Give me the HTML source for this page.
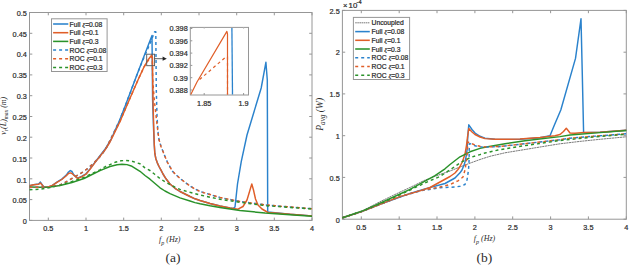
<!DOCTYPE html>
<html><head><meta charset="utf-8">
<style>
html,body{margin:0;padding:0;background:#fff;}
body{width:629px;height:266px;overflow:hidden;}
svg{display:block;}
text{font-family:"Liberation Sans",sans-serif;fill:#2b2b2b;stroke:#2b2b2b;stroke-width:0.22px;}
.s{font-family:"Liberation Serif",serif;stroke-width:0;}
</style></head><body>
<svg width="629" height="266" viewBox="0 0 629 266">
<rect x="0" y="0" width="629" height="266" fill="#fff"/>
<rect x="29.5" y="12.5" width="282.5" height="207.9" fill="none" stroke="#969696" stroke-width="1"/>
<line x1="48.3" y1="220.4" x2="48.3" y2="217.6" stroke="#969696" stroke-width="1"/>
<line x1="48.3" y1="12.5" x2="48.3" y2="15.3" stroke="#969696" stroke-width="1"/>
<line x1="86.0" y1="220.4" x2="86.0" y2="217.6" stroke="#969696" stroke-width="1"/>
<line x1="86.0" y1="12.5" x2="86.0" y2="15.3" stroke="#969696" stroke-width="1"/>
<line x1="123.7" y1="220.4" x2="123.7" y2="217.6" stroke="#969696" stroke-width="1"/>
<line x1="123.7" y1="12.5" x2="123.7" y2="15.3" stroke="#969696" stroke-width="1"/>
<line x1="161.3" y1="220.4" x2="161.3" y2="217.6" stroke="#969696" stroke-width="1"/>
<line x1="161.3" y1="12.5" x2="161.3" y2="15.3" stroke="#969696" stroke-width="1"/>
<line x1="199.0" y1="220.4" x2="199.0" y2="217.6" stroke="#969696" stroke-width="1"/>
<line x1="199.0" y1="12.5" x2="199.0" y2="15.3" stroke="#969696" stroke-width="1"/>
<line x1="236.7" y1="220.4" x2="236.7" y2="217.6" stroke="#969696" stroke-width="1"/>
<line x1="236.7" y1="12.5" x2="236.7" y2="15.3" stroke="#969696" stroke-width="1"/>
<line x1="274.3" y1="220.4" x2="274.3" y2="217.6" stroke="#969696" stroke-width="1"/>
<line x1="274.3" y1="12.5" x2="274.3" y2="15.3" stroke="#969696" stroke-width="1"/>
<line x1="312.0" y1="220.4" x2="312.0" y2="217.6" stroke="#969696" stroke-width="1"/>
<line x1="312.0" y1="12.5" x2="312.0" y2="15.3" stroke="#969696" stroke-width="1"/>
<line x1="29.5" y1="220.4" x2="32.3" y2="220.4" stroke="#969696" stroke-width="1"/>
<line x1="312.0" y1="220.4" x2="309.2" y2="220.4" stroke="#969696" stroke-width="1"/>
<line x1="29.5" y1="199.6" x2="32.3" y2="199.6" stroke="#969696" stroke-width="1"/>
<line x1="312.0" y1="199.6" x2="309.2" y2="199.6" stroke="#969696" stroke-width="1"/>
<line x1="29.5" y1="178.8" x2="32.3" y2="178.8" stroke="#969696" stroke-width="1"/>
<line x1="312.0" y1="178.8" x2="309.2" y2="178.8" stroke="#969696" stroke-width="1"/>
<line x1="29.5" y1="158.0" x2="32.3" y2="158.0" stroke="#969696" stroke-width="1"/>
<line x1="312.0" y1="158.0" x2="309.2" y2="158.0" stroke="#969696" stroke-width="1"/>
<line x1="29.5" y1="137.2" x2="32.3" y2="137.2" stroke="#969696" stroke-width="1"/>
<line x1="312.0" y1="137.2" x2="309.2" y2="137.2" stroke="#969696" stroke-width="1"/>
<line x1="29.5" y1="116.5" x2="32.3" y2="116.5" stroke="#969696" stroke-width="1"/>
<line x1="312.0" y1="116.5" x2="309.2" y2="116.5" stroke="#969696" stroke-width="1"/>
<line x1="29.5" y1="95.7" x2="32.3" y2="95.7" stroke="#969696" stroke-width="1"/>
<line x1="312.0" y1="95.7" x2="309.2" y2="95.7" stroke="#969696" stroke-width="1"/>
<line x1="29.5" y1="74.9" x2="32.3" y2="74.9" stroke="#969696" stroke-width="1"/>
<line x1="312.0" y1="74.9" x2="309.2" y2="74.9" stroke="#969696" stroke-width="1"/>
<line x1="29.5" y1="54.1" x2="32.3" y2="54.1" stroke="#969696" stroke-width="1"/>
<line x1="312.0" y1="54.1" x2="309.2" y2="54.1" stroke="#969696" stroke-width="1"/>
<line x1="29.5" y1="33.3" x2="32.3" y2="33.3" stroke="#969696" stroke-width="1"/>
<line x1="312.0" y1="33.3" x2="309.2" y2="33.3" stroke="#969696" stroke-width="1"/>
<line x1="29.5" y1="12.5" x2="32.3" y2="12.5" stroke="#969696" stroke-width="1"/>
<line x1="312.0" y1="12.5" x2="309.2" y2="12.5" stroke="#969696" stroke-width="1"/>
<text x="48.3" y="231.4" font-size="7.9" text-anchor="middle" textLength="10.15" lengthAdjust="spacingAndGlyphs">0.5</text>
<text x="86.0" y="231.4" font-size="7.9" text-anchor="middle" textLength="4.06" lengthAdjust="spacingAndGlyphs">1</text>
<text x="123.7" y="231.4" font-size="7.9" text-anchor="middle" textLength="10.15" lengthAdjust="spacingAndGlyphs">1.5</text>
<text x="161.3" y="231.4" font-size="7.9" text-anchor="middle" textLength="4.06" lengthAdjust="spacingAndGlyphs">2</text>
<text x="199.0" y="231.4" font-size="7.9" text-anchor="middle" textLength="10.15" lengthAdjust="spacingAndGlyphs">2.5</text>
<text x="236.7" y="231.4" font-size="7.9" text-anchor="middle" textLength="4.06" lengthAdjust="spacingAndGlyphs">3</text>
<text x="274.3" y="231.4" font-size="7.9" text-anchor="middle" textLength="10.15" lengthAdjust="spacingAndGlyphs">3.5</text>
<text x="312.0" y="231.4" font-size="7.9" text-anchor="middle" textLength="4.06" lengthAdjust="spacingAndGlyphs">4</text>
<text x="26.8" y="224.2" font-size="7.9" text-anchor="end" textLength="4.06" lengthAdjust="spacingAndGlyphs">0</text>
<text x="26.8" y="203.3" font-size="7.9" text-anchor="end" textLength="14.21" lengthAdjust="spacingAndGlyphs">0.05</text>
<text x="26.8" y="182.5" font-size="7.9" text-anchor="end" textLength="10.15" lengthAdjust="spacingAndGlyphs">0.1</text>
<text x="26.8" y="161.6" font-size="7.9" text-anchor="end" textLength="14.21" lengthAdjust="spacingAndGlyphs">0.15</text>
<text x="26.8" y="140.8" font-size="7.9" text-anchor="end" textLength="10.15" lengthAdjust="spacingAndGlyphs">0.2</text>
<text x="26.8" y="119.9" font-size="7.9" text-anchor="end" textLength="14.21" lengthAdjust="spacingAndGlyphs">0.25</text>
<text x="26.8" y="99.0" font-size="7.9" text-anchor="end" textLength="10.15" lengthAdjust="spacingAndGlyphs">0.3</text>
<text x="26.8" y="78.2" font-size="7.9" text-anchor="end" textLength="14.21" lengthAdjust="spacingAndGlyphs">0.35</text>
<text x="26.8" y="57.3" font-size="7.9" text-anchor="end" textLength="10.15" lengthAdjust="spacingAndGlyphs">0.4</text>
<text x="26.8" y="36.5" font-size="7.9" text-anchor="end" textLength="14.21" lengthAdjust="spacingAndGlyphs">0.45</text>
<text x="26.8" y="15.6" font-size="7.9" text-anchor="end" textLength="10.15" lengthAdjust="spacingAndGlyphs">0.5</text>
<polyline points="29.5,185.8 33.6,184.7 38.7,183.9 40.4,182.1 43.8,187.0 47.7,187.3 51.7,185.8 57.3,181.9 61.8,179.1 66.3,175.1 68.5,172.0 70.3,170.6 72.0,171.5 73.6,174.6 77.6,178.2 82.0,176.2 86.0,173.8 90.0,168.9 95.0,162.1 100.0,155.8 105.0,149.3 111.0,139.5 119.3,121.0 125.0,106.5 134.8,80.5 144.1,56.0 152.0,35.5 152.6,100.0 153.6,130.0 154.3,145.0 154.8,153.2 155.8,158.5 157.2,162.6 159.0,166.5 161.0,170.1 163.0,174.0 166.0,178.8 170.0,184.0 175.0,188.3 180.0,191.5 190.0,196.5 195.0,198.8 200.0,200.5 210.0,203.5 220.0,206.0 230.0,208.0 233.0,208.5 235.0,207.0 237.5,184.0 241.3,161.4 247.0,135.0 261.2,88.0 265.9,62.3 267.3,80.0 267.7,212.0 275.0,212.8 290.0,214.3 312.0,215.9" fill="none" stroke="#2A82CC" stroke-width="1.45" stroke-linejoin="round"/>
<polyline points="29.5,185.8 33.6,184.7 38.7,184.2 40.4,183.0 43.8,187.0 47.7,187.3 51.7,185.8 57.3,182.2 61.8,179.5 66.3,175.8 68.5,173.5 70.3,172.9 72.0,173.5 73.6,175.0 77.6,178.5 82.0,176.6 86.0,174.2 90.0,169.4 95.0,162.6 100.0,156.3 105.0,150.0 110.0,142.0 113.0,136.0 120.0,121.5 129.0,100.5 138.2,79.5 144.0,67.0 148.0,60.0 151.6,55.2 152.4,57.0 153.0,100.0 153.8,130.0 154.3,145.0 154.8,153.2 155.8,158.5 157.2,162.6 159.0,166.5 161.0,170.1 163.0,174.0 166.0,178.8 170.0,184.0 175.0,188.3 180.0,191.5 190.0,196.5 195.0,198.8 200.0,200.5 210.0,203.5 220.0,206.0 230.0,208.0 238.0,209.2 243.0,206.5 247.0,200.0 250.0,190.0 251.8,184.0 253.5,190.0 255.5,199.0 258.0,205.0 262.0,209.0 268.0,212.5 275.0,213.0 290.0,214.3 312.0,215.9" fill="none" stroke="#E05E28" stroke-width="1.45" stroke-linejoin="round"/>
<polyline points="29.5,187.0 40.0,187.2 50.0,187.0 60.0,185.5 72.0,182.5 84.0,178.5 92.0,174.5 100.0,170.6 110.0,166.5 117.0,164.8 122.0,164.3 127.0,164.6 132.0,166.3 140.0,171.3 145.0,175.5 150.0,179.2 155.0,183.5 160.0,187.8 165.0,191.0 170.0,193.6 180.0,197.9 190.0,201.0 195.0,202.6 200.0,203.8 210.0,205.8 220.0,207.5 240.0,210.5 265.0,213.0 290.0,214.8 312.0,216.3" fill="none" stroke="#2A922A" stroke-width="1.45" stroke-linejoin="round"/>
<polyline points="29.5,187.5 42.6,187.0 50.5,186.8 59.5,185.3 68.6,180.5 74.0,177.3 78.7,174.6 81.5,172.9 87.5,168.6 95.0,161.8 101.0,155.5 106.3,148.0 112.3,135.5 119.3,121.0 125.0,106.5 134.8,80.5 140.0,67.0 145.0,55.0 150.1,43.5 154.6,31.8 155.8,31.8 156.3,90.0 157.0,115.0 157.8,130.0 159.1,140.0 161.0,146.5 162.9,151.3 165.0,156.5 167.6,162.6 170.0,166.8 172.3,171.0 175.0,173.8 180.0,178.5 190.0,186.0 195.0,189.0 200.0,191.5 210.0,194.5 220.0,197.5 240.0,201.5 265.0,204.8 280.0,206.2 312.0,208.7" fill="none" stroke="#2A82CC" stroke-width="1.45" stroke-linejoin="round" stroke-dasharray="3,3"/>
<polyline points="29.5,187.5 42.6,187.0 50.5,186.8 59.5,185.3 68.6,180.5 74.0,177.3 78.7,174.6 81.5,172.9 87.5,168.6 95.0,161.8 101.0,155.5 106.3,148.0 112.6,135.5 120.0,121.5 129.0,100.5 138.2,79.5 144.0,67.0 149.6,58.4 151.8,56.8 152.3,57.0 152.7,80.0 154.3,100.0 156.5,120.0 158.3,135.0 159.1,140.0 161.0,146.5 162.9,151.3 165.0,156.5 167.6,162.6 170.0,166.8 172.3,171.0 175.0,173.8 180.0,178.5 190.0,186.0 195.0,189.0 200.0,191.5 210.0,194.5 220.0,197.5 240.0,201.5 265.0,204.8 280.0,206.2 312.0,208.7" fill="none" stroke="#E05E28" stroke-width="1.45" stroke-linejoin="round" stroke-dasharray="3,3"/>
<polyline points="29.5,189.8 40.0,189.2 50.0,187.5 60.0,185.3 72.0,181.5 84.0,177.4 92.0,173.5 100.0,169.8 105.0,166.8 115.0,162.3 121.0,160.8 126.0,160.4 131.0,160.9 140.0,163.8 145.0,167.9 150.0,170.5 155.0,174.5 160.0,178.5 165.0,181.8 170.0,184.6 175.0,187.2 180.0,189.4 190.0,192.3 195.0,193.6 200.0,195.0 210.0,197.2 220.0,199.3 240.0,202.3 265.0,205.6 290.0,207.5 312.0,208.9" fill="none" stroke="#2A922A" stroke-width="1.45" stroke-linejoin="round" stroke-dasharray="3,3"/>
<rect x="146.7" y="54.2" width="7.9" height="11.5" fill="none" stroke="#555" stroke-width="0.9"/>
<line x1="154.6" y1="58.7" x2="163.5" y2="58.7" stroke="#333" stroke-width="0.8"/>
<path d="M166.8,58.7 L162.6,56.6 L162.6,60.8 Z" fill="#222"/>
<rect x="190.3" y="27.4" width="58.2" height="67.6" fill="#fff" stroke="#969696" stroke-width="1"/>
<line x1="190.3" y1="90.0" x2="192.3" y2="90.0" stroke="#969696" stroke-width="1"/>
<text x="187.7" y="92.8" font-size="7.9" text-anchor="end" textLength="18.26" lengthAdjust="spacingAndGlyphs">0.388</text>
<line x1="190.3" y1="77.7" x2="192.3" y2="77.7" stroke="#969696" stroke-width="1"/>
<text x="187.7" y="80.5" font-size="7.9" text-anchor="end" textLength="14.21" lengthAdjust="spacingAndGlyphs">0.39</text>
<line x1="190.3" y1="65.4" x2="192.3" y2="65.4" stroke="#969696" stroke-width="1"/>
<text x="187.7" y="68.2" font-size="7.9" text-anchor="end" textLength="18.26" lengthAdjust="spacingAndGlyphs">0.392</text>
<line x1="190.3" y1="53.1" x2="192.3" y2="53.1" stroke="#969696" stroke-width="1"/>
<text x="187.7" y="55.9" font-size="7.9" text-anchor="end" textLength="18.26" lengthAdjust="spacingAndGlyphs">0.394</text>
<line x1="190.3" y1="40.8" x2="192.3" y2="40.8" stroke="#969696" stroke-width="1"/>
<text x="187.7" y="43.6" font-size="7.9" text-anchor="end" textLength="18.26" lengthAdjust="spacingAndGlyphs">0.396</text>
<line x1="190.3" y1="28.5" x2="192.3" y2="28.5" stroke="#969696" stroke-width="1"/>
<text x="187.7" y="31.3" font-size="7.9" text-anchor="end" textLength="18.26" lengthAdjust="spacingAndGlyphs">0.398</text>
<line x1="204.2" y1="95.0" x2="204.2" y2="93.0" stroke="#969696" stroke-width="1"/>
<line x1="204.2" y1="27.4" x2="204.2" y2="28.9" stroke="#bbb" stroke-width="0.8"/>
<text x="204.2" y="105.6" font-size="7.9" text-anchor="middle" textLength="14.21" lengthAdjust="spacingAndGlyphs">1.85</text>
<line x1="243.6" y1="95.0" x2="243.6" y2="93.0" stroke="#969696" stroke-width="1"/>
<line x1="243.6" y1="27.4" x2="243.6" y2="28.9" stroke="#bbb" stroke-width="0.8"/>
<text x="243.6" y="105.6" font-size="7.9" text-anchor="middle" textLength="10.15" lengthAdjust="spacingAndGlyphs">1.9</text>
<polyline points="190.8,94.5 197,82 226.9,31.4 227.5,34 227.5,94.5" fill="none" stroke="#E05E28" stroke-width="1.2" stroke-linejoin="round"/>
<polyline points="199.6,79.5 225.8,57 227.5,57 227.5,94.5" fill="none" stroke="#E05E28" stroke-width="1.2" stroke-dasharray="3,3"/>
<line x1="231.9" y1="27.9" x2="232.5" y2="94.5" stroke="#2A82CC" stroke-width="1.3"/>
<rect x="51.5" y="18.8" width="55.6" height="52.7" fill="#fff" stroke="#969696" stroke-width="1"/>
<line x1="53.1" y1="24.0" x2="68.3" y2="24.0" stroke="#2A82CC" stroke-width="1.55"/>
<text x="69.6" y="26.5" font-size="6.75">Full <tspan font-style="italic" font-size="6.2">&#958;</tspan>=0.08</text>
<line x1="53.1" y1="32.7" x2="68.3" y2="32.7" stroke="#E05E28" stroke-width="1.55"/>
<text x="69.6" y="35.2" font-size="6.75">Full <tspan font-style="italic" font-size="6.2">&#958;</tspan>=0.1</text>
<line x1="53.1" y1="41.4" x2="68.3" y2="41.4" stroke="#2A922A" stroke-width="1.55"/>
<text x="69.6" y="43.9" font-size="6.75">Full <tspan font-style="italic" font-size="6.2">&#958;</tspan>=0.3</text>
<line x1="53.1" y1="50.0" x2="68.3" y2="50.0" stroke="#2A82CC" stroke-width="1.55" stroke-dasharray="3,3"/>
<text x="69.6" y="52.5" font-size="6.75">ROC <tspan font-style="italic" font-size="6.2">&#958;</tspan>=0.08</text>
<line x1="53.1" y1="58.7" x2="68.3" y2="58.7" stroke="#E05E28" stroke-width="1.55" stroke-dasharray="3,3"/>
<text x="69.6" y="61.2" font-size="6.75">ROC <tspan font-style="italic" font-size="6.2">&#958;</tspan>=0.1</text>
<line x1="53.1" y1="67.4" x2="68.3" y2="67.4" stroke="#2A922A" stroke-width="1.55" stroke-dasharray="3,3"/>
<text x="69.6" y="69.9" font-size="6.75">ROC <tspan font-style="italic" font-size="6.2">&#958;</tspan>=0.3</text>
<rect x="342.4" y="10.4" width="283.9" height="208.8" fill="none" stroke="#969696" stroke-width="1"/>
<line x1="361.3" y1="219.2" x2="361.3" y2="216.39999999999998" stroke="#969696" stroke-width="1"/>
<line x1="361.3" y1="10.4" x2="361.3" y2="13.2" stroke="#969696" stroke-width="1"/>
<line x1="399.2" y1="219.2" x2="399.2" y2="216.39999999999998" stroke="#969696" stroke-width="1"/>
<line x1="399.2" y1="10.4" x2="399.2" y2="13.2" stroke="#969696" stroke-width="1"/>
<line x1="437.0" y1="219.2" x2="437.0" y2="216.39999999999998" stroke="#969696" stroke-width="1"/>
<line x1="437.0" y1="10.4" x2="437.0" y2="13.2" stroke="#969696" stroke-width="1"/>
<line x1="474.9" y1="219.2" x2="474.9" y2="216.39999999999998" stroke="#969696" stroke-width="1"/>
<line x1="474.9" y1="10.4" x2="474.9" y2="13.2" stroke="#969696" stroke-width="1"/>
<line x1="512.7" y1="219.2" x2="512.7" y2="216.39999999999998" stroke="#969696" stroke-width="1"/>
<line x1="512.7" y1="10.4" x2="512.7" y2="13.2" stroke="#969696" stroke-width="1"/>
<line x1="550.6" y1="219.2" x2="550.6" y2="216.39999999999998" stroke="#969696" stroke-width="1"/>
<line x1="550.6" y1="10.4" x2="550.6" y2="13.2" stroke="#969696" stroke-width="1"/>
<line x1="588.4" y1="219.2" x2="588.4" y2="216.39999999999998" stroke="#969696" stroke-width="1"/>
<line x1="588.4" y1="10.4" x2="588.4" y2="13.2" stroke="#969696" stroke-width="1"/>
<line x1="626.3" y1="219.2" x2="626.3" y2="216.39999999999998" stroke="#969696" stroke-width="1"/>
<line x1="626.3" y1="10.4" x2="626.3" y2="13.2" stroke="#969696" stroke-width="1"/>
<line x1="342.4" y1="219.2" x2="345.2" y2="219.2" stroke="#969696" stroke-width="1"/>
<line x1="626.3" y1="219.2" x2="623.5" y2="219.2" stroke="#969696" stroke-width="1"/>
<line x1="342.4" y1="177.4" x2="345.2" y2="177.4" stroke="#969696" stroke-width="1"/>
<line x1="626.3" y1="177.4" x2="623.5" y2="177.4" stroke="#969696" stroke-width="1"/>
<line x1="342.4" y1="135.7" x2="345.2" y2="135.7" stroke="#969696" stroke-width="1"/>
<line x1="626.3" y1="135.7" x2="623.5" y2="135.7" stroke="#969696" stroke-width="1"/>
<line x1="342.4" y1="93.9" x2="345.2" y2="93.9" stroke="#969696" stroke-width="1"/>
<line x1="626.3" y1="93.9" x2="623.5" y2="93.9" stroke="#969696" stroke-width="1"/>
<line x1="342.4" y1="52.2" x2="345.2" y2="52.2" stroke="#969696" stroke-width="1"/>
<line x1="626.3" y1="52.2" x2="623.5" y2="52.2" stroke="#969696" stroke-width="1"/>
<line x1="342.4" y1="10.4" x2="345.2" y2="10.4" stroke="#969696" stroke-width="1"/>
<line x1="626.3" y1="10.4" x2="623.5" y2="10.4" stroke="#969696" stroke-width="1"/>
<text x="361.3" y="230.2" font-size="7.9" text-anchor="middle" textLength="10.15" lengthAdjust="spacingAndGlyphs">0.5</text>
<text x="399.2" y="230.2" font-size="7.9" text-anchor="middle" textLength="4.06" lengthAdjust="spacingAndGlyphs">1</text>
<text x="437.0" y="230.2" font-size="7.9" text-anchor="middle" textLength="10.15" lengthAdjust="spacingAndGlyphs">1.5</text>
<text x="474.9" y="230.2" font-size="7.9" text-anchor="middle" textLength="4.06" lengthAdjust="spacingAndGlyphs">2</text>
<text x="512.7" y="230.2" font-size="7.9" text-anchor="middle" textLength="10.15" lengthAdjust="spacingAndGlyphs">2.5</text>
<text x="550.6" y="230.2" font-size="7.9" text-anchor="middle" textLength="4.06" lengthAdjust="spacingAndGlyphs">3</text>
<text x="588.4" y="230.2" font-size="7.9" text-anchor="middle" textLength="10.15" lengthAdjust="spacingAndGlyphs">3.5</text>
<text x="626.3" y="230.2" font-size="7.9" text-anchor="middle" textLength="4.06" lengthAdjust="spacingAndGlyphs">4</text>
<text x="339.7" y="223.0" font-size="7.9" text-anchor="end" textLength="4.06" lengthAdjust="spacingAndGlyphs">0</text>
<text x="339.7" y="181.1" font-size="7.9" text-anchor="end" textLength="10.15" lengthAdjust="spacingAndGlyphs">0.5</text>
<text x="339.7" y="139.2" font-size="7.9" text-anchor="end" textLength="4.06" lengthAdjust="spacingAndGlyphs">1</text>
<text x="339.7" y="97.3" font-size="7.9" text-anchor="end" textLength="10.15" lengthAdjust="spacingAndGlyphs">1.5</text>
<text x="339.7" y="55.4" font-size="7.9" text-anchor="end" textLength="4.06" lengthAdjust="spacingAndGlyphs">2</text>
<text x="339.7" y="13.5" font-size="7.9" text-anchor="end" textLength="10.15" lengthAdjust="spacingAndGlyphs">2.5</text>
<text x="342.9" y="8.0" font-size="7.6">&#215;</text>
<text x="348.6" y="8.0" font-size="7.8">10</text>
<text x="356.6" y="3.6" font-size="5.6">-4</text>
<polyline points="342.4,217.8 352.0,214.8 361.6,211.3 380.0,201.7 400.0,192.1 410.0,187.5 425.0,180.1 440.0,174.5 450.0,171.0 465.0,165.0 480.0,159.5 490.0,156.3 505.0,152.8 525.0,149.5 545.0,146.2 560.0,143.8 580.0,141.4 600.0,139.3 626.3,136.8" fill="none" stroke="#7a7a7a" stroke-width="1.0" stroke-linejoin="round" stroke-dasharray="2.2,0.5"/>
<polyline points="342.4,217.8 361.6,211.6 380.0,204.3 400.0,197.1 410.0,193.4 425.0,188.9 445.0,183.5 455.0,178.0 460.0,172.8 462.0,170.0 464.0,165.0 465.0,162.0 466.0,157.1 467.0,150.5 467.6,140.0 468.3,130.0 468.8,124.8 472.0,129.5 475.0,133.0 480.0,136.3 485.0,138.1 495.0,139.3 505.0,139.4 520.0,139.3 540.0,137.8 550.0,135.8 554.5,124.8 560.8,110.0 575.5,58.4 581.0,18.8 582.2,70.0 583.6,132.6 600.0,132.3 626.3,130.3" fill="none" stroke="#2A82CC" stroke-width="1.45" stroke-linejoin="round"/>
<polyline points="342.4,217.8 361.6,211.6 380.0,204.3 400.0,196.6 420.0,190.9 430.0,187.5 440.0,182.0 450.0,176.5 455.0,173.0 458.0,169.5 460.0,166.5 462.0,162.5 463.5,158.5 465.0,154.0 466.5,145.3 467.5,137.0 468.8,128.5 472.0,132.0 475.0,134.5 480.0,137.0 485.0,138.6 495.0,139.2 505.0,139.3 520.0,139.0 540.0,137.5 555.0,135.8 560.0,134.5 563.5,131.5 566.3,128.2 568.5,131.0 570.0,133.0 575.0,133.3 584.0,132.5 600.0,132.2 626.3,130.2" fill="none" stroke="#E05E28" stroke-width="1.45" stroke-linejoin="round"/>
<polyline points="342.4,217.8 361.6,211.3 380.0,203.2 400.0,194.0 410.0,189.4 425.0,181.1 435.0,175.7 445.0,168.8 450.0,164.5 460.0,156.8 470.0,151.8 480.0,148.4 485.0,147.2 505.0,143.8 525.0,140.8 560.0,136.6 570.0,135.0 600.0,132.6 626.3,130.5" fill="none" stroke="#2A922A" stroke-width="1.45" stroke-linejoin="round"/>
<polyline points="342.4,217.8 361.6,211.6 380.0,204.3 400.0,196.8 420.0,190.9 440.0,187.7 455.0,187.0 460.0,186.3 465.0,184.5 467.0,180.0 468.5,170.0 469.1,160.0 469.3,144.0 470.0,143.6 475.0,145.8 480.0,146.8 485.0,147.1 498.0,146.7 505.0,146.0 525.0,143.7 560.0,139.7 570.0,138.2 600.0,135.8 626.3,133.8" fill="none" stroke="#2A82CC" stroke-width="1.45" stroke-linejoin="round" stroke-dasharray="3,3"/>
<polyline points="342.4,217.8 361.6,211.6 380.0,204.3 400.0,196.6 420.0,190.7 440.0,187.0 450.0,184.5 458.0,180.8 463.0,177.0 465.0,170.0 467.0,157.0 467.5,148.0 467.8,142.0 475.0,145.0 480.0,146.3 485.0,146.9 498.0,146.5 505.0,145.9 525.0,143.7 560.0,139.7 570.0,138.2 600.0,135.8 626.3,133.8" fill="none" stroke="#E05E28" stroke-width="1.45" stroke-linejoin="round" stroke-dasharray="3,3"/>
<polyline points="342.4,217.8 361.6,211.4 380.0,203.8 400.0,194.8 420.0,185.3 425.0,182.9 440.0,176.5 450.0,169.8 460.0,163.0 470.0,157.6 480.0,154.6 485.0,153.0 498.0,150.0 505.0,148.8 525.0,145.6 560.0,140.5 600.0,136.4 626.3,134.3" fill="none" stroke="#2A922A" stroke-width="1.45" stroke-linejoin="round" stroke-dasharray="3,3"/>
<rect x="353.4" y="17.4" width="56.2" height="62.1" fill="#fff" stroke="#969696" stroke-width="1"/>
<line x1="355.2" y1="22.8" x2="369.8" y2="22.8" stroke="#7a7a7a" stroke-width="1.0" stroke-dasharray="1.6,0.5"/>
<text x="371.6" y="25.3" font-size="6.75">Uncoupled</text>
<line x1="355.2" y1="31.6" x2="369.8" y2="31.6" stroke="#2A82CC" stroke-width="1.55"/>
<text x="371.6" y="34.0" font-size="6.75">Full <tspan font-style="italic" font-size="6.2">&#958;</tspan>=0.08</text>
<line x1="355.2" y1="40.3" x2="369.8" y2="40.3" stroke="#E05E28" stroke-width="1.55"/>
<text x="371.6" y="42.8" font-size="6.75">Full <tspan font-style="italic" font-size="6.2">&#958;</tspan>=0.1</text>
<line x1="355.2" y1="49.0" x2="369.8" y2="49.0" stroke="#2A922A" stroke-width="1.55"/>
<text x="371.6" y="51.5" font-size="6.75">Full <tspan font-style="italic" font-size="6.2">&#958;</tspan>=0.3</text>
<line x1="355.2" y1="57.8" x2="369.8" y2="57.8" stroke="#2A82CC" stroke-width="1.55" stroke-dasharray="3,3"/>
<text x="371.6" y="60.3" font-size="6.75">ROC <tspan font-style="italic" font-size="6.2">&#958;</tspan>=0.08</text>
<line x1="355.2" y1="66.5" x2="369.8" y2="66.5" stroke="#E05E28" stroke-width="1.55" stroke-dasharray="3,3"/>
<text x="371.6" y="69.0" font-size="6.75">ROC <tspan font-style="italic" font-size="6.2">&#958;</tspan>=0.1</text>
<line x1="355.2" y1="75.3" x2="369.8" y2="75.3" stroke="#2A922A" stroke-width="1.55" stroke-dasharray="3,3"/>
<text x="371.6" y="77.8" font-size="6.75">ROC <tspan font-style="italic" font-size="6.2">&#958;</tspan>=0.3</text>
<text class="s" font-style="italic" font-size="8" transform="translate(5.6,134.7) rotate(-90)">v<tspan font-size="5.6" dy="2">r</tspan><tspan dy="-2">(L)</tspan><tspan font-size="5.6" dy="2">max</tspan><tspan dy="-2"> (m)</tspan></text>
<text class="s" font-style="italic" font-size="9.6" transform="translate(322.6,130.8) rotate(-90)">P<tspan font-size="7.2" dy="2.3">avg</tspan><tspan dy="-2.3"> (W)</tspan></text>
<text class="s" font-style="italic" font-size="8" x="159" y="241.5">f<tspan font-size="6" dy="3.7">p</tspan><tspan dy="-3.7"> (Hz)</tspan></text>
<text class="s" font-style="italic" font-size="8" x="473.8" y="240.5">f<tspan font-size="6" dy="3.7">p</tspan><tspan dy="-3.7"> (Hz)</tspan></text>
<text class="s" font-size="13.5" x="165.6" y="262.2">(a)</text>
<text class="s" font-size="13.5" x="476.4" y="261.6">(b)</text>
</svg>
</body></html>
